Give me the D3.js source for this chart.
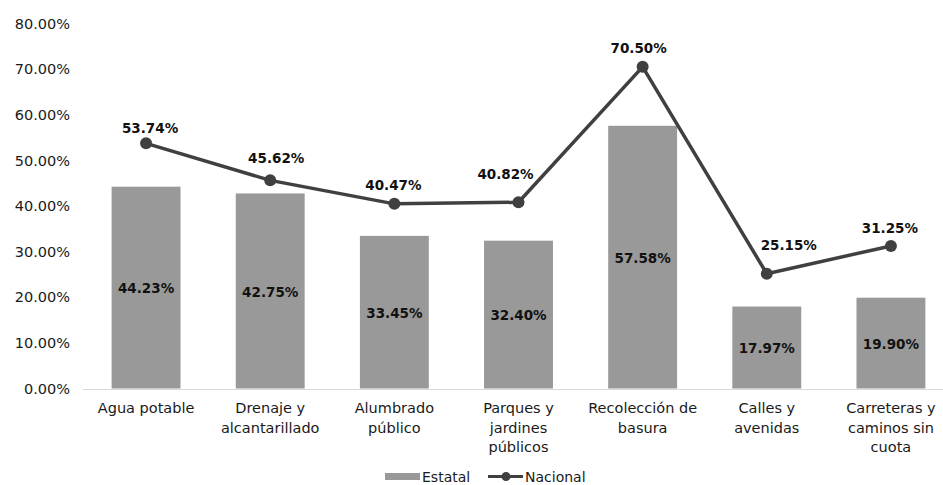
<!DOCTYPE html>
<meta charset="utf-8">
<head>
<script src="https://d3js.org/d3.v7.min.js"></script>
<style>
  body { margin: 0; background: #fff; font-family: "DejaVu Sans", "Open Sans", sans-serif; }
</style>
</head>
<body>
<svg></svg>
<script>
  // data
  var categories = [
    ["Agua potable"],
    ["Drenaje y", "alcantarillado"],
    ["Alumbrado", "público"],
    ["Parques y", "jardines", "públicos"],
    ["Recolección de", "basura"],
    ["Calles y", "avenidas"],
    ["Carreteras y", "caminos sin", "cuota"]
  ];
  var estatal = [44.23, 42.75, 33.45, 32.40, 57.58, 17.97, 19.90];
  var nacional = [53.74, 45.62, 40.47, 40.82, 70.50, 25.15, 31.25];
  var yTicks = [0, 10, 20, 30, 40, 50, 60, 70, 80];
  // manual nudges of the Nacional labels [dx, gap above marker]
  var labelNudge = [[4, 10], [6, 17], [-1, 14], [-13, 23], [-4, 14], [22, 24], [-1, 13]];

  var width = 943, height = 485;
  var barColor = "#999999", lineColor = "#404040", textColor = "#1a1a1a";

  var svg = d3.select("svg").attr("width", width).attr("height", height);

  // plot area runs a bit past the right edge, like the source
  var x = d3.scaleBand()
      .domain(d3.range(categories.length))
      .range([84, 953])
      .paddingInner(0.445).paddingOuter(0.2225);
  var y = d3.scaleLinear().domain([0, 80]).range([388.5, 23.5]);

  // y axis labels
  svg.append("g").selectAll("text")
    .data(yTicks).enter().append("text")
      .attr("x", 70)
      .attr("y", function(d) { return y(d); })
      .attr("dy", "0.36em")
      .attr("text-anchor", "end")
      .style("font-size", "14.5px")
      .style("fill", textColor)
      .text(function(d) { return d.toFixed(2) + "%"; });

  // bars
  svg.append("g").selectAll("rect")
    .data(estatal).enter().append("rect")
      .attr("x", function(d, i) { return x(i); })
      .attr("y", function(d) { return y(d); })
      .attr("width", x.bandwidth())
      .attr("height", function(d) { return y(0) - y(d); })
      .style("fill", barColor);

  // baseline
  svg.append("line")
    .attr("x1", 83).attr("x2", width)
    .attr("y1", Math.round(y(0)) + 0.5).attr("y2", Math.round(y(0)) + 0.5)
    .style("stroke", "#d9d9d9").style("stroke-width", 1);

  // bar labels
  svg.append("g").selectAll("text")
    .data(estatal).enter().append("text")
      .attr("x", function(d, i) { return x(i) + x.bandwidth() / 2; })
      .attr("y", function(d) { return (y(d) + y(0)) / 2 + 1; })
      .attr("dy", "0.36em")
      .attr("text-anchor", "middle")
      .style("font-size", "13.5px").style("font-weight", "bold")
      .style("fill", "#111")
      .text(function(d) { return d.toFixed(2) + "%"; });

  // line
  var cx = function(d, i) { return x(i) + x.bandwidth() / 2; };
  var line = d3.line()
    .x(cx)
    .y(function(d) { return y(d); });
  svg.append("path")
    .datum(nacional)
    .attr("d", line)
    .style("fill", "none")
    .style("stroke", lineColor)
    .style("stroke-width", 3.5);

  svg.append("g").selectAll("circle")
    .data(nacional).enter().append("circle")
      .attr("cx", cx)
      .attr("cy", function(d) { return y(d); })
      .attr("r", 6)
      .style("fill", lineColor);

  svg.append("g").selectAll("text")
    .data(nacional).enter().append("text")
      .attr("x", function(d, i) { return cx(d, i) + labelNudge[i][0]; })
      .attr("y", function(d, i) { return y(d) - labelNudge[i][1]; })
      .attr("text-anchor", "middle")
      .style("font-size", "13.5px").style("font-weight", "bold")
      .style("fill", "#111")
      .text(function(d) { return d.toFixed(2) + "%"; });

  // category labels
  var cat = svg.append("g").selectAll("text")
    .data(categories).enter().append("text")
      .attr("x", function(d, i) { return x(i) + x.bandwidth() / 2; })
      .attr("y", 408)
      .attr("dy", "0.36em")
      .attr("text-anchor", "middle")
      .style("font-size", "14.5px")
      .style("fill", textColor);
  cat.selectAll("tspan")
    .data(function(d) { return d; }).enter().append("tspan")
      .attr("x", function() { return this.parentNode.getAttribute("x"); })
      .attr("dy", function(d, i) { return i ? 19.5 : "0.36em"; })
      .text(function(d) { return d; });

  // legend
  var lg = svg.append("g").attr("transform", "translate(0,476.5)");
  lg.append("rect").attr("x", 385).attr("y", -3.5).attr("width", 35).attr("height", 7).style("fill", barColor);
  lg.append("text").attr("x", 422).attr("y", 0).attr("dy", "0.36em")
    .style("font-size", "14px").style("fill", textColor).text("Estatal");
  lg.append("line").attr("x1", 488).attr("x2", 523).attr("y1", 0).attr("y2", 0)
    .style("stroke", lineColor).style("stroke-width", 3);
  lg.append("circle").attr("cx", 506).attr("cy", 0).attr("r", 4.5).style("fill", lineColor);
  lg.append("text").attr("x", 525).attr("y", 0).attr("dy", "0.36em")
    .style("font-size", "14px").style("fill", textColor).text("Nacional");
</script>
</body>
</html>
